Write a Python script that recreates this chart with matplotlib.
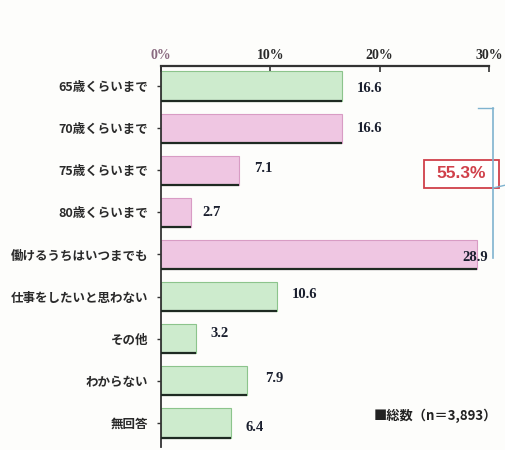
import matplotlib
matplotlib.use("Agg")
import matplotlib.pyplot as plt
from matplotlib.patches import Rectangle

plt.rcParams['font.family'] = ['Noto Sans CJK JP', 'DejaVu Sans']

categories = ["65歳くらいまで", "70歳くらいまで", "75歳くらいまで", "80歳くらいまで",
              "働けるうちはいつまでも", "仕事をしたいと思わない", "その他", "わからない", "無回答"]
values = [16.6, 16.6, 7.1, 2.7, 28.9, 10.6, 3.2, 7.9, 6.4]
is_pink = [False, True, True, True, True, False, False, False, False]
value_labels = ["16.6", "16.6", "7.1", "2.7", "28.9", "10.6", "3.2", "7.9", "6.4"]
tick_vals = [0, 10, 20, 30]
tick_labels = ["0%", "10%", "20%", "30%"]
bracket_total = "55.3%"
legend_text = "■総数（n＝3,893）"

# label offsets (x in % units, y in category units)
lab_dx = [1.3, 1.3, 1.4, 1.1, -1.3, 1.4, 1.3, 1.6, 1.3]
lab_dy = [0.05, 0.02, -0.05, 0.0, 0.07, -0.05, -0.12, -0.05, 0.1]

W, H = 506, 450
fig = plt.figure(figsize=(W / 100, H / 100), dpi=100)
fig.patch.set_facecolor("#fdfdfb")

ax_left, ax_right, ax_top, ax_bot = 161, 489, 66, 447
ax = fig.add_axes([ax_left / W, 1 - ax_bot / H, (ax_right - ax_left) / W, (ax_bot - ax_top) / H])
ax.set_facecolor("none")

green = "#cdebcd"
green_edge = "#8cc48c"
pink = "#efc6e2"
pink_edge = "#d89cc4"
bar_h = 0.69

for i, v in enumerate(values):
    fc = pink if is_pink[i] else green
    ec = pink_edge if is_pink[i] else green_edge
    ax.barh(i, v, height=bar_h, color=fc, edgecolor=ec, linewidth=0.8, zorder=2)
    # dark shadow at bottom of bar
    ax.plot([0, v], [i + bar_h / 2, i + bar_h / 2], color="#1e2a22", lw=1.6, zorder=3,
            solid_capstyle="butt")
    ax.text(v + lab_dx[i], i + lab_dy[i], value_labels[i], ha="left", va="center",
            fontsize=10.5, fontweight="bold", color="#1a1f2e",
            family=["Liberation Serif", "DejaVu Serif"], zorder=4)

ax.set_xlim(0, 30)
ax.set_ylim(8.57, -0.475)
ax.set_yticks(range(len(categories)))
ax.set_yticklabels(categories, fontsize=9, fontweight="bold", color="#2a2a2a")
ax.tick_params(axis="y", length=3, width=1, color="#333333", pad=6)

ax.xaxis.tick_top()
ax.set_xticks(tick_vals)
ax.set_xticklabels(tick_labels, fontsize=10, fontweight="bold",
                   family=["Liberation Serif", "DejaVu Serif"])
ax.get_xticklabels()[0].set_color("#8a6a80")
for t in ax.get_xticklabels()[1:]:
    t.set_color("#2a2a2a")
ax.tick_params(axis="x", length=4, width=1.2, direction="in", pad=3, color="#333333")

for s in ["right", "bottom"]:
    ax.spines[s].set_visible(False)
ax.spines["top"].set_linewidth(1.6)
ax.spines["top"].set_color("#333333")
ax.spines["left"].set_linewidth(1.3)
ax.spines["left"].set_color("#333333")

# bracket (figure pixel coordinates)
def fx(px):
    return px / W

def fy(py):
    return 1 - py / H

bl = "#7fb3cf"
fig.lines.append(plt.Line2D([fx(493), fx(493)], [fy(108), fy(258)], color=bl, lw=1.2,
                            transform=fig.transFigure))
fig.lines.append(plt.Line2D([fx(478), fx(493)], [fy(108), fy(108)], color=bl, lw=1.0,
                            transform=fig.transFigure))
fig.lines.append(plt.Line2D([fx(493), fx(506)], [fy(188), fy(185)], color=bl, lw=1.0,
                            transform=fig.transFigure))
box = Rectangle((fx(424), fy(188)), fx(499) - fx(424), fy(160) - fy(188),
                transform=fig.transFigure, facecolor="white", edgecolor="#d0404a", lw=1.3)
fig.patches.append(box)
fig.text(fx(461), fy(174), bracket_total, ha="center", va="center", fontsize=12.5,
         fontweight="bold", color="#d0404a", family=["Liberation Sans", "DejaVu Sans"])

fig.text(fx(374), fy(416), legend_text, ha="left", va="center", fontsize=9.5,
         fontweight="bold", color="#222222")

fig.savefig("out.png", dpi=100, facecolor=fig.get_facecolor())
